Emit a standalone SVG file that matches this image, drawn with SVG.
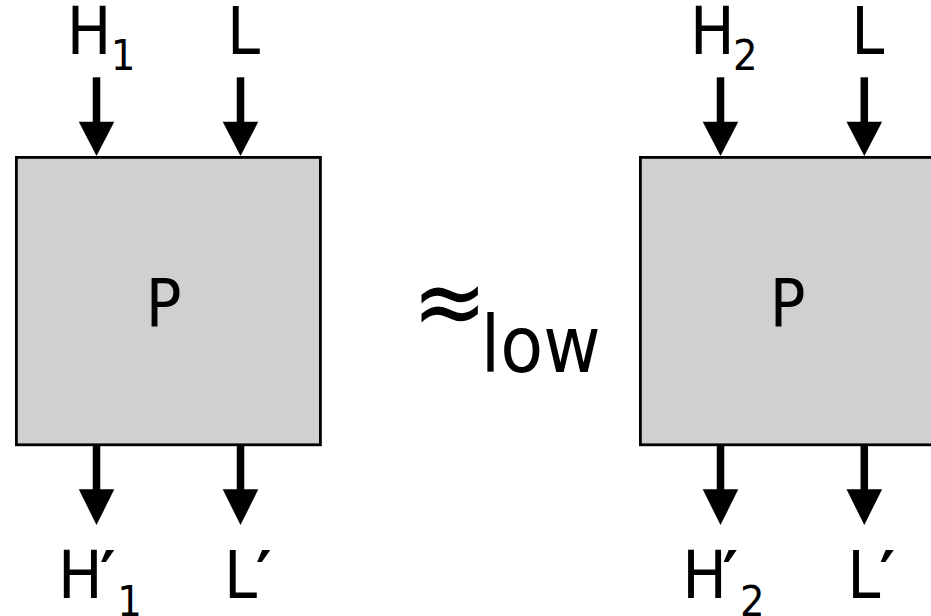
<svg xmlns="http://www.w3.org/2000/svg" width="931" height="616" viewBox="0 0 931 616">
<style>
text{font-family:"DejaVu Sans Condensed","DejaVu Sans",sans-serif;font-stretch:condensed;fill:#000}
.lbl{font-size:66px}
.sub{font-size:43px}
.pr{font-weight:bold}
.box{fill:#d0d0d0;stroke:#000;stroke-width:2.8}
.shaft{stroke:#000;stroke-width:7.5;fill:none}
.head{fill:#000}
</style>
<rect width="931" height="616" fill="#fff"/>
<g id="nodeP1">
<rect class="box" x="16.4" y="157.4" width="304" height="287.4"/>
<text class="lbl" x="145.7" y="325.7">P</text>
</g>
<g id="nodeP2">
<rect class="box" x="640.4" y="157.4" width="304" height="287.4"/>
<text class="lbl" x="769.7" y="325.7">P</text>
</g>
<g id="labels">
<text class="lbl" x="66.8" y="54">H<tspan class="sub" x="110.8" y="70">1</tspan></text>
<text class="lbl" x="227" y="54">L</text>
<text class="lbl" x="690" y="54">H<tspan class="sub" x="733" y="70">2</tspan></text>
<text class="lbl" x="851.3" y="54">L</text>
<text class="lbl" x="58" y="598.3">H<tspan class="pr" x="100" y="598.3">′</tspan><tspan class="sub" x="117.3" y="616">1</tspan></text>
<text class="lbl" x="224" y="598.3">L<tspan class="pr" x="256" y="598.3">′</tspan></text>
<text class="lbl" x="682.3" y="598.3">H<tspan class="pr" x="722.5" y="598.3">′</tspan><tspan class="sub" x="740" y="616">2</tspan></text>
<text class="lbl" x="847.3" y="598.3">L<tspan class="pr" x="879.5" y="598.3">′</tspan></text>
</g>
<g id="relation">
<text x="412" y="336" style="font-size:100px">≈</text>
<text x="480.8" y="371.7" style="font-size:78px">low</text>
</g>
<g id="connectors">
<line class="shaft" x1="96.5" y1="77.3" x2="96.5" y2="123"/>
<polygon class="head" points="78.8,121.7 114.3,121.7 96.5,156"/>
<line class="shaft" x1="240.5" y1="77.3" x2="240.5" y2="123"/>
<polygon class="head" points="222.7,121.7 258.3,121.7 240.5,156"/>
<line class="shaft" x1="96.5" y1="444" x2="96.5" y2="491"/>
<polygon class="head" points="78.8,489.3 114.3,489.3 96.5,525"/>
<line class="shaft" x1="240.5" y1="444" x2="240.5" y2="491"/>
<polygon class="head" points="222.7,489.3 258.3,489.3 240.5,525"/>
<line class="shaft" x1="720.5" y1="77.3" x2="720.5" y2="123"/>
<polygon class="head" points="702.7,121.7 738.3,121.7 720.5,156"/>
<line class="shaft" x1="864.3" y1="77.3" x2="864.3" y2="123"/>
<polygon class="head" points="846.5,121.7 882.1,121.7 864.3,156"/>
<line class="shaft" x1="720.5" y1="444" x2="720.5" y2="491"/>
<polygon class="head" points="702.7,489.3 738.3,489.3 720.5,525"/>
<line class="shaft" x1="864.3" y1="444" x2="864.3" y2="491"/>
<polygon class="head" points="846.5,489.3 882.1,489.3 864.3,525"/>
</g>
</svg>
